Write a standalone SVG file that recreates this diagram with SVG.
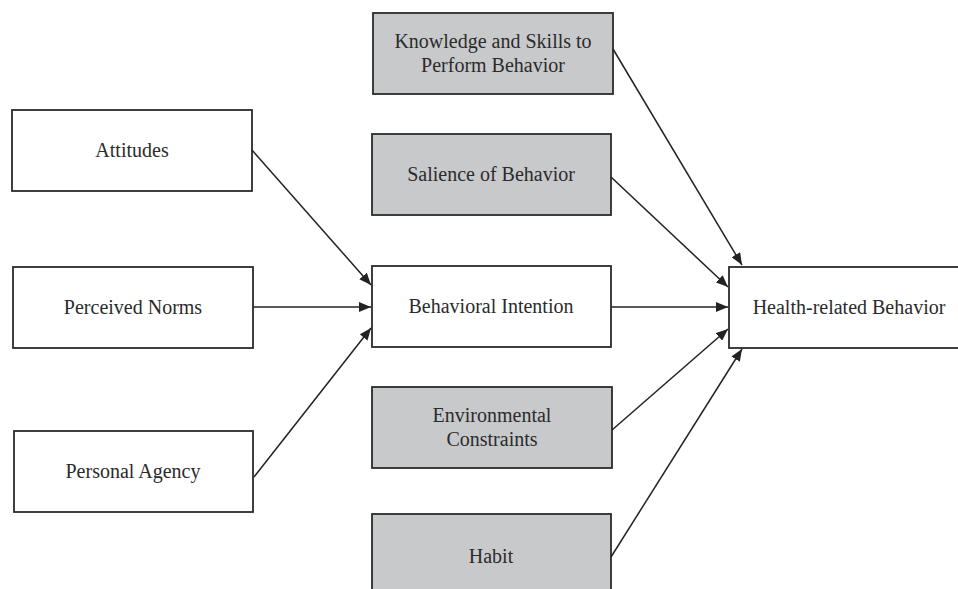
<svg xmlns="http://www.w3.org/2000/svg" width="958" height="589" viewBox="0 0 958 589">
<style>
.box{stroke:#2b2b2b;stroke-width:1.8}
.w{fill:#fff}
.g{fill:#c8c9cb}
text{font-family:"Liberation Serif","Times New Roman",serif;font-size:20px;fill:#2b2b2b;text-anchor:middle}
.c line{stroke:#222;stroke-width:1.5;marker-end:url(#ah)}
</style>
<defs>
<marker id="ah" viewBox="0 0 12 10" refX="12" refY="5" markerWidth="12" markerHeight="10" markerUnits="userSpaceOnUse" orient="auto">
<path d="M0,0 L12,5 L0,10 Z" fill="#222"/>
</marker>
</defs>
<rect width="958" height="589" fill="#fff"/>
<g id="attitudes"><rect class="box w" x="12" y="110" width="240" height="81"/><text x="132" y="157">Attitudes</text></g>
<g id="norms"><rect class="box w" x="13" y="267" width="240" height="81"/><text x="133" y="314">Perceived Norms</text></g>
<g id="agency"><rect class="box w" x="14" y="431" width="239" height="81"/><text x="133" y="478">Personal Agency</text></g>
<g id="knowledge"><rect class="box g" x="373" y="13" width="240" height="81"/><text x="493" y="48">Knowledge and Skills to</text><text x="493" y="72">Perform Behavior</text></g>
<g id="salience"><rect class="box g" x="372" y="134" width="239" height="81"/><text x="491" y="181">Salience of Behavior</text></g>
<g id="intention"><rect class="box w" x="372" y="266" width="239" height="81"/><text x="491" y="313">Behavioral Intention</text></g>
<g id="environment"><rect class="box g" x="372" y="387" width="240" height="81"/><text x="492" y="422">Environmental</text><text x="492" y="446">Constraints</text></g>
<g id="habit"><rect class="box g" x="372" y="514" width="239" height="90"/><text x="491" y="563">Habit</text></g>
<g id="health"><rect class="box w" x="729" y="267" width="240" height="81"/><text x="849" y="314">Health-related Behavior</text></g>
<g class="c" id="connectors">
<line x1="252" y1="150" x2="371" y2="285"/>
<line x1="253" y1="307" x2="371" y2="307"/>
<line x1="254" y1="477" x2="371" y2="328"/>
<line x1="613" y1="49" x2="742" y2="265"/>
<line x1="611" y1="177" x2="728" y2="287"/>
<line x1="611" y1="307" x2="728" y2="307"/>
<line x1="612" y1="430" x2="728" y2="329"/>
<line x1="611" y1="557" x2="742" y2="349"/>
</g>
</svg>
